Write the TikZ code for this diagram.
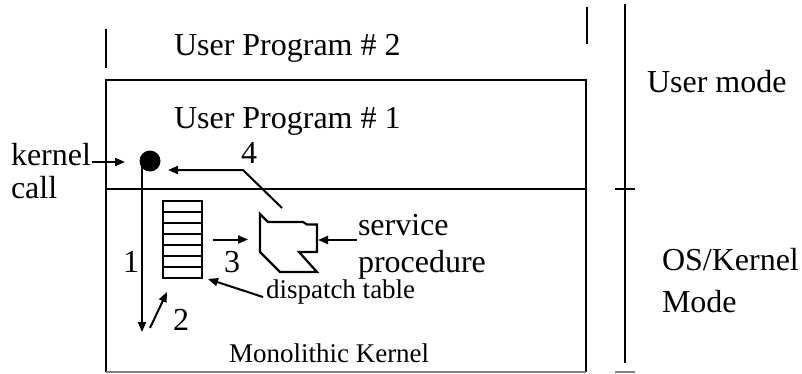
\documentclass[tikz,border=0pt]{standalone}
\usepackage{fontspec}
\setmainfont{Liberation Serif}
\usetikzlibrary{arrows.meta,positioning}

\begin{document}
\begin{tikzpicture}[
    x=1pt, y=-1pt,
    line width=2pt,
    lbl/.style={inner sep=0pt, anchor=base west, font=\fontsize{32}{36}\selectfont},
    small/.style={inner sep=0pt, anchor=base west, font=\fontsize{27}{32}\selectfont},
    arrow/.style={-{Triangle[length=10pt,width=8pt]}, line width=2pt},
    tblrow/.style={draw, line width=2pt, minimum width=39pt, minimum height=11pt, inner sep=0pt}
]
\useasboundingbox (0,0) rectangle (802,373);

% kernel box, user/kernel split and mode axis
\draw (106,372) -- (106,80) -- (586,80) -- (586,372);
\draw[gray, line width=1.5pt] (106,372) -- (586,372);
\draw (106,29) -- (106,68);
\draw (587,7) -- (587,44);
\draw (106,189) -- (586,189);
\draw (625,4) -- (625,363);
\draw (615,189) -- (635,189);
\draw[gray, line width=1.5pt] (615,372) -- (635,372);

% labels
\node[lbl] (prog2) at (173,55) {User Program \# 2};
\node[lbl] (prog1) at (173,128) {User Program \# 1};
\node[lbl] (usermode) at (646,92) {User mode};
\node[lbl] (oskernel) at (661,270) {OS/Kernel};
\node[lbl] (kmode) at (661,312) {Mode};
\node[lbl] (kernel) at (10,165) {kernel};
\node[lbl] (call) at (10,198) {call};
\node[lbl] (service) at (357,235) {service};
\node[lbl] (procedure) at (357,272) {procedure};
\node[small] (dispatch) at (265,298) {dispatch table};
\node[small] (mono) at (228,362) {Monolithic Kernel};

% step numbers
\node[lbl] (n1) at (122,272) {1};
\node[lbl] (n2) at (172,330) {2};
\node[lbl] (n3) at (223,272) {3};
\node[lbl] (n4) at (240,163) {4};

% call point
\node[circle, fill, inner sep=0pt, minimum size=21pt] (dot) at (150,161) {};

% dispatch table
\foreach \i in {0,...,6}
  \node[tblrow] (row\i) at (182.5,206.5+11*\i) {};

% service procedure
\draw[line width=2.2pt, line join=miter] (260,214) -- (268,222) -- (303,222) -- (307,224.5) -- (317,224.5)
  -- (317,252) -- (299,252) -- (317,272) -- (280,272) -- (260,252) -- cycle;

% connectors
\coordinate (kin) at (125,162);
\coordinate (down1) at (142,332);
\coordinate (up2s) at (150,328);
\coordinate (up2e) at (167,292);
\coordinate (procin) at (248,239.5);
\coordinate (svcin) at (318,240);
\coordinate (ret) at (282,208);
\coordinate (retbend) at (243,170);
\coordinate (retend) at (168,170);
\coordinate (dspstart) at (263,297);

\draw[arrow] (kernel.east |- kin) -- (kin);
\draw[arrow] (dot.center -| down1) -- (down1);
\draw[arrow] (up2s) -- (up2e);
\draw[arrow] ([xshift=10pt]row3.east) -- (procin);
\draw[arrow] (service.west |- svcin) -- (svcin);
\draw[arrow] (ret) -- (retbend) -- (retend);
\draw[arrow] (dspstart) -- ([xshift=5pt]row6.south east);
\end{tikzpicture}
\end{document}
